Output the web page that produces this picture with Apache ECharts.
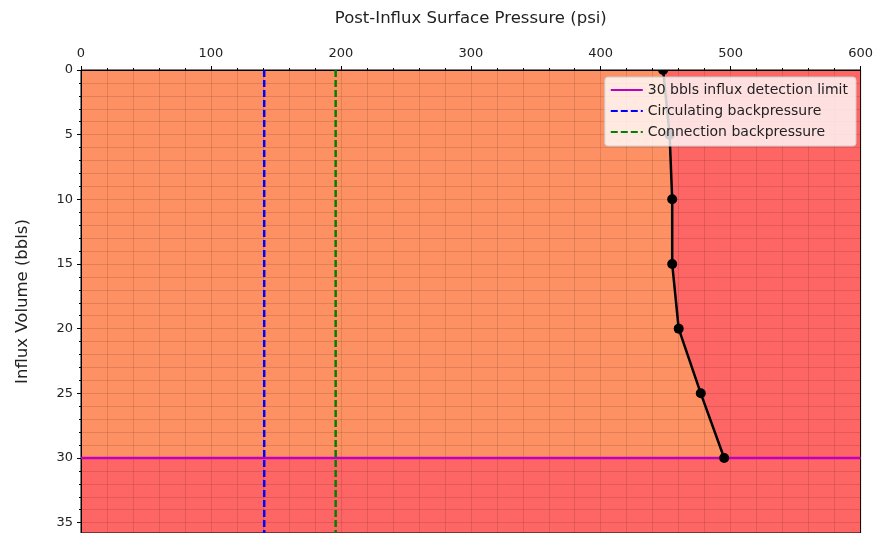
<!DOCTYPE html>
<html>
<head>
<meta charset="utf-8">
<script src="https://cdn.jsdelivr.net/npm/echarts@6/dist/echarts.min.js"></script>
<style>
  html, body { margin: 0; padding: 0; background: #fff; }
  #chart { width: 876px; height: 533px; }
</style>
</head>
<body>
<div id="chart"></div>
<script>
// Influx volume (bbls) vs post-influx surface pressure (psi)
const influxVolume = [0, 5, 10, 15, 20, 25, 30];
const surfacePressure = [448, 453, 455, 455, 460, 477, 495];

const detectionLimit = 30;          // bbls
const circulatingBackpressure = 141; // psi
const connectionBackpressure = 196;  // psi

const xMin = 0, xMax = 600, xStep = 100;
const yMin = 0, yMax = 35.8, yStep = 5;

const FONT = 'DejaVu Sans';
const curve = influxVolume.map((v, i) => [surfacePressure[i], v]);

// Safe zone polygon: left of the pressure curve, above the detection limit
const safeZone = [[xMin, yMin]].concat(curve).concat([[xMin, detectionLimit]]);

const chart = echarts.init(document.getElementById('chart'));

const gridLine = { show: true, lineStyle: { color: 'rgba(60,20,10,0.14)', width: 1 } };

chart.setOption({
  animation: false,
  textStyle: { fontFamily: FONT },
  grid: {
    left: 81, right: 15, top: 70, bottom: 0,
    show: true, backgroundColor: '#fe6565', borderColor: '#000', borderWidth: 1
  },
  legend: {
    orient: 'vertical', z: 10,
    right: 20, top: 77,
    itemWidth: 32, itemHeight: 14, itemGap: 7,
    padding: [6, 8, 7, 5],
    backgroundColor: 'rgba(255,255,255,0.8)',
    borderColor: '#cccccc', borderWidth: 1, borderRadius: 3,
    itemStyle: { opacity: 0 },
    textStyle: { fontFamily: FONT, fontSize: 14, color: '#222' },
    data: ['30 bbls influx detection limit', 'Circulating backpressure', 'Connection backpressure']
  },
  xAxis: {
    type: 'value', position: 'top', z: 3,
    min: xMin, max: xMax, interval: xStep,
    name: 'Post-Influx Surface Pressure (psi)',
    nameLocation: 'middle', nameGap: 43,
    nameTextStyle: { fontFamily: FONT, fontSize: 16.5, color: '#222' },
    axisLine: { show: true, lineStyle: { color: '#000', width: 1 } },
    axisTick: { show: true, length: 4, lineStyle: { color: '#000' } },
    minorTick: { show: true, splitNumber: 5, length: 2, lineStyle: { color: '#000' } },
    axisLabel: { fontFamily: FONT, fontSize: 13, color: '#222', margin: 10 },
    splitLine: gridLine,
    minorSplitLine: gridLine
  },
  yAxis: {
    type: 'value', inverse: true, z: 3,
    min: yMin, max: yMax, interval: yStep,
    name: 'Influx Volume (bbls)',
    nameLocation: 'middle', nameGap: 50,
    nameTextStyle: { fontFamily: FONT, fontSize: 16.5, color: '#222' },
    axisLine: { show: true, lineStyle: { color: '#000', width: 1 } },
    axisTick: { show: true, length: 4, lineStyle: { color: '#000' } },
    minorTick: { show: true, splitNumber: 5, length: 2, lineStyle: { color: '#000' } },
    axisLabel: { fontFamily: FONT, fontSize: 13, color: '#222', margin: 8, showMaxLabel: false },
    splitLine: gridLine,
    minorSplitLine: gridLine
  },
  series: [
    {
      type: 'custom', z: 1, silent: true,
      data: [0],
      renderItem: function (params, api) {
        const pts = safeZone.map(p => api.coord(p));
        return {
          type: 'polygon',
          shape: { points: pts },
          style: { fill: '#fd9164' }
        };
      }
    },
    {
      name: '30 bbls influx detection limit',
      type: 'line', z: 5, symbol: 'none',
      color: '#c000c0',
      lineStyle: { color: '#c000c0', width: 2.5 },
      data: [[xMin, detectionLimit], [xMax, detectionLimit]]
    },
    {
      name: 'Circulating backpressure',
      type: 'line', z: 5, symbol: 'none',
      color: '#0000ff',
      lineStyle: { color: '#0000ff', width: 2.5, type: [7, 3] },
      data: [[circulatingBackpressure, yMin], [circulatingBackpressure, yMax]]
    },
    {
      name: 'Connection backpressure',
      type: 'line', z: 5, symbol: 'none',
      color: '#008000',
      lineStyle: { color: '#008000', width: 2.5, type: [7, 3] },
      data: [[connectionBackpressure, yMin], [connectionBackpressure, yMax]]
    },
    {
      name: 'Surface pressure',
      type: 'line', z: 6,
      symbol: 'none',
      color: '#000',
      lineStyle: { color: '#000', width: 2.5 },
      data: curve
    },
    {
      // point markers, clipped to the plot frame
      type: 'custom', z: 7, clip: true, silent: true,
      encode: { x: 0, y: 1 },
      data: curve,
      renderItem: function (params, api) {
        const c = api.coord([api.value(0), api.value(1)]);
        return {
          type: 'circle',
          shape: { cx: c[0], cy: c[1], r: 5 },
          style: { fill: '#000' }
        };
      }
    }
  ]
});
</script>
</body>
</html>
